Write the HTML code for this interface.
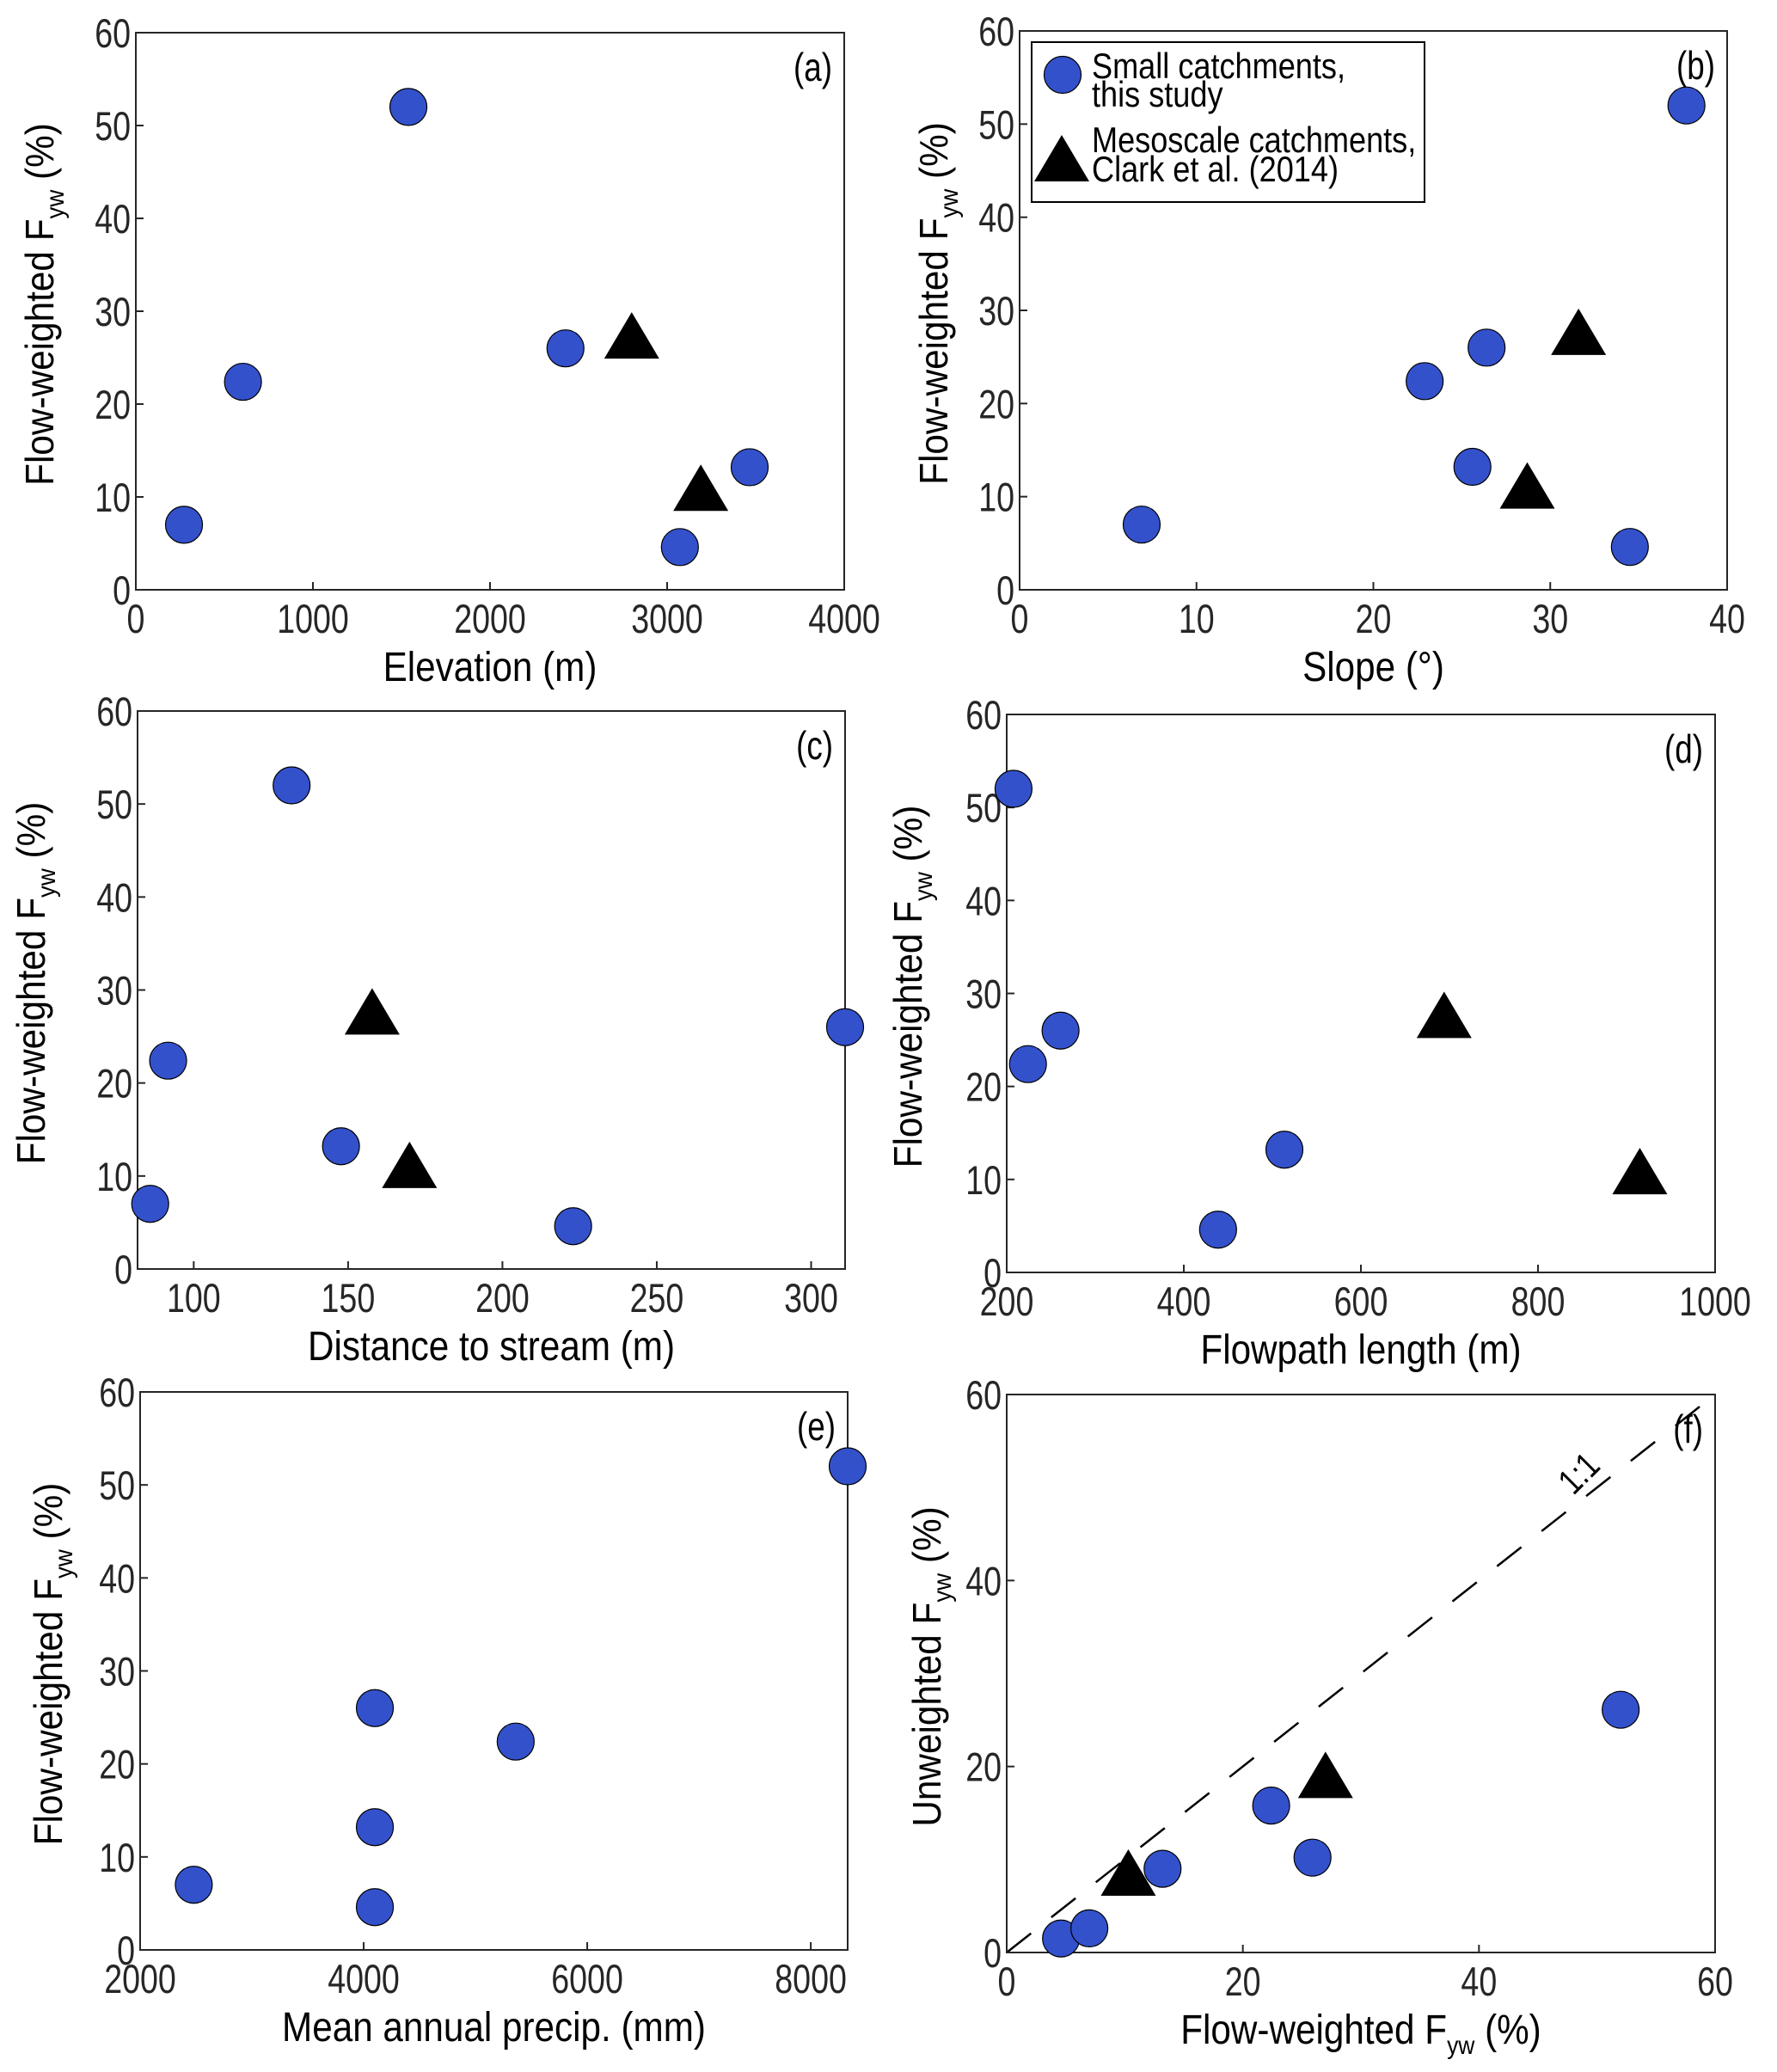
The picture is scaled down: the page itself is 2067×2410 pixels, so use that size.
<!DOCTYPE html>
<html><head><meta charset="utf-8"><style>
html,body{margin:0;padding:0;background:#fff;}
svg{display:block;font-family:"Liberation Sans",Arial,sans-serif;}
</style></head>
<body>
<svg id="fig" width="2067" height="2410" viewBox="0 0 2067 2410" xmlns="http://www.w3.org/2000/svg"></svg>
<script>
// Panel (a) Elevation
const aBlueX = [272, 605, 1539, 2426, 3072, 3466];
const aBlueY = [7.0, 22.4, 52.0, 26.0, 4.6, 13.2];
const aTriX = [2800, 3190];
const aTriY = [27.4, 11.0];
const aXTicks = [0, 1000, 2000, 3000, 4000];
// Panel (b) Slope
const bBlueX = [6.9, 22.9, 37.7, 26.4, 34.5, 25.6];
const bBlueY = [7.0, 22.4, 52.0, 26.0, 4.6, 13.2];
const bTriX = [31.6, 28.7];
const bTriY = [27.7, 11.2];
const bXTicks = [0, 10, 20, 30, 40];
// Panel (c) Distance to stream
const cBlueX = [85.9, 91.7, 131.7, 311, 222.9, 147.7];
const cBlueY = [7.0, 22.4, 52.0, 26.0, 4.6, 13.2];
const cTriX = [157.8, 169.9];
const cTriY = [27.7, 11.2];
const cXTicks = [100, 150, 200, 250, 300];
// Panel (d) Flowpath length
const dBlueX = [207.7, 224, 260.8, 438.7, 513.6];
const dBlueY = [52.0, 22.4, 26.0, 4.6, 13.2];
const dTriX = [694, 915];
const dTriY = [27.7, 10.9];
const dXTicks = [200, 400, 600, 800, 1000];
// Panel (e) Mean annual precip
const eBlueX = [2480, 5360, 8330, 4100, 4100, 4100];
const eBlueY = [7.0, 22.4, 52.0, 26.0, 4.6, 13.2];
const eTriX = [];
const eTriY = [];
const eXTicks = [2000, 4000, 6000, 8000];
// Panel (f) Unweighted vs flow-weighted
const fBlueX = [4.6, 7.0, 13.2, 22.4, 25.9, 52.0];
const fBlueY = [1.5, 2.6, 9.0, 15.8, 10.2, 26.1];
const fTriX = [10.3, 27.0];
const fTriY = [8.6, 19.1];
const fXTicks = [0, 20, 40, 60];
const yTicksFW = [0, 10, 20, 30, 40, 50, 60];
const yTicksF = [0, 20, 40, 60];

const NS = "http://www.w3.org/2000/svg";
const svg = document.getElementById("fig");
function mk(tag, attrs, parent) {
  const e = document.createElementNS(NS, tag);
  for (const k in attrs) e.setAttribute(k, attrs[k]);
  (parent || svg).appendChild(e);
  return e;
}
const TS = "scale(0.8,1)";

const panels = [
  {id:"a", L:158, R:982, T:38, B:686, x0:0, x1:4000, y1:60, bx:aBlueX, by:aBlueY, tx:aTriX, ty:aTriY, xt:aXTicks, yt:yTicksFW, xl:"Elevation (m)", yl:"Flow-weighted", ylx:46},
  {id:"b", L:1186, R:2009, T:36, B:686, x0:0, x1:40, y1:60, bx:bBlueX, by:bBlueY, tx:bTriX, ty:bTriY, xt:bXTicks, yt:yTicksFW, xl:"Slope (°)", yl:"Flow-weighted", ylx:1086},
  {id:"c", L:160, R:983, T:827, B:1476, x0:81.8, x1:311, y1:60, bx:cBlueX, by:cBlueY, tx:cTriX, ty:cTriY, xt:cXTicks, yt:yTicksFW, xl:"Distance to stream (m)", yl:"Flow-weighted", ylx:36},
  {id:"d", L:1171, R:1995, T:831, B:1480, x0:200, x1:1000, y1:60, bx:dBlueX, by:dBlueY, tx:dTriX, ty:dTriY, xt:dXTicks, yt:yTicksFW, xl:"Flowpath length (m)", yl:"Flow-weighted", ylx:1056},
  {id:"e", L:163, R:986, T:1619, B:2268, x0:2000, x1:8330, y1:60, bx:eBlueX, by:eBlueY, tx:eTriX, ty:eTriY, xt:eXTicks, yt:yTicksFW, xl:"Mean annual precip. (mm)", yl:"Flow-weighted", ylx:56},
  {id:"f", L:1171, R:1995, T:1622, B:2271, x0:0, x1:60, y1:60, bx:fBlueX, by:fBlueY, tx:fTriX, ty:fTriY, xt:fXTicks, yt:yTicksF, xl:"Flow-weighted F", yl:"Unweighted", ylx:1078}
];

panels.forEach(p => {
  const sx = v => p.L + (v - p.x0) / (p.x1 - p.x0) * (p.R - p.L);
  const sy = v => p.B - v / p.y1 * (p.B - p.T);
  const g = mk("g", {});
  
  

  p.xt.forEach(t => {
    const x = sx(t);
    const tk = mk("line", {x1:x, x2:x, y1:p.B, y2:p.B-9, stroke:"#262626", "stroke-width":2}, g);
    
    
    const lb = mk("text", {x:0, y:0, "font-size":47, fill:"#262626", "text-anchor":"middle", transform:"translate(" + x + "," + (p.B+50) + ") " + TS}, g);
    lb.textContent = t;
    
    
  });
  p.yt.forEach(t => {
    const y = sy(t);
    const tk = mk("line", {x1:p.L, x2:p.L+9, y1:y, y2:y, stroke:"#262626", "stroke-width":2}, g);
    
    
    const lb = mk("text", {x:0, y:0, "font-size":47, fill:"#262626", "text-anchor":"end", transform:"translate(" + (p.L-6) + "," + (y+17) + ") " + TS}, g);
    lb.textContent = t;
    
    
  });

  if (p.id === "f") {
    const ln = mk("line", {x1:sx(0), y1:sy(0), x2:sx(60), y2:sy(60), stroke:"#000", "stroke-width":2.5, "stroke-dasharray":"36 30"}, g);
    
    
    const t11 = mk("text", {x:0, y:0, "font-size":42, fill:"#000", "text-anchor":"middle", transform:"translate(" + (sx(49.2)) + "," + (sy(51.9)+14) + ") rotate(-45) " + TS}, g);
    t11.textContent = "1:1";
    
    
  }

  const box = mk("rect", {x:p.L, y:p.T, width:p.R-p.L, height:p.B-p.T, fill:"none", stroke:"#262626", "stroke-width":2}, g);
  
  

  p.bx.forEach((v, i) => {
    const c = mk("circle", {cx:sx(v), cy:sy(p.by[i]), r:21.5, fill:"#3451cc", stroke:"#000", "stroke-width":1.2}, g);
    
    
  });
  p.tx.forEach((v, i) => {
    const cx = sx(v), cy = sy(p.ty[i]);
    const tr = mk("polygon", {points:(cx)+","+(cy-27)+" "+(cx-32)+","+(cy+27)+" "+(cx+32)+","+(cy+27), fill:"#000"}, g);
    
    
  });

  const pl = mk("text", {x:0, y:0, "font-size":46, fill:"#000", "text-anchor":"end", transform:"translate(" + (p.R-14) + "," + (p.T+56) + ") " + TS}, g);
  pl.textContent = "(" + p.id + ")";
  
  

  const xl = mk("text", {x:0, y:0, "font-size":48, fill:"#000", "text-anchor":"middle", transform:"translate(" + ((p.L+p.R)/2) + "," + (p.B+106) + ") scale(0.88,1)"}, g);
  
  
  if (p.id === "f") {
    xl.innerHTML = 'Flow-weighted F<tspan font-size="30" dy="12">yw</tspan><tspan dy="-12"> (%)</tspan>';
  } else {
    xl.textContent = p.xl;
  }

  const cy = (p.T + p.B) / 2 - 8;
  const yl = mk("text", {x:0, y:0, "font-size":46, fill:"#000", "text-anchor":"middle", transform:"translate(" + (p.ylx+16) + "," + cy + ") rotate(-90) scale(0.92,1)"}, g);
  
  
  yl.innerHTML = p.yl + ' F<tspan font-size="30" dy="12">yw</tspan><tspan dy="-12">  (%)</tspan>';
  yl.setAttribute('xml:space', 'preserve');
});

const lg = mk("g", {});


const lbox = mk("rect", {x:1200, y:49, width:457, height:186, fill:"#fff", stroke:"#000", "stroke-width":2}, lg);


const lc = mk("circle", {cx:1236, cy:87, r:21.5, fill:"#3451cc", stroke:"#000", "stroke-width":1.2}, lg);


const lt = mk("polygon", {points:"1235,157 1203,211 1267,211", fill:"#000"}, lg);


[["Small catchments,",91,'legend-entry-small'],["this study",124,'legend-entry-small-2'],["Mesoscale catchments,",177,'legend-entry-meso'],["Clark et al. (2014)",211,'legend-entry-meso-2']].forEach(r => {
  const t = mk("text", {x:0, y:0, "font-size":42, fill:"#000", transform:"translate(1270," + r[1] + ") scale(0.86,1)"}, lg);
  t.textContent = r[0];
  
  
});
</script>
</body></html>
